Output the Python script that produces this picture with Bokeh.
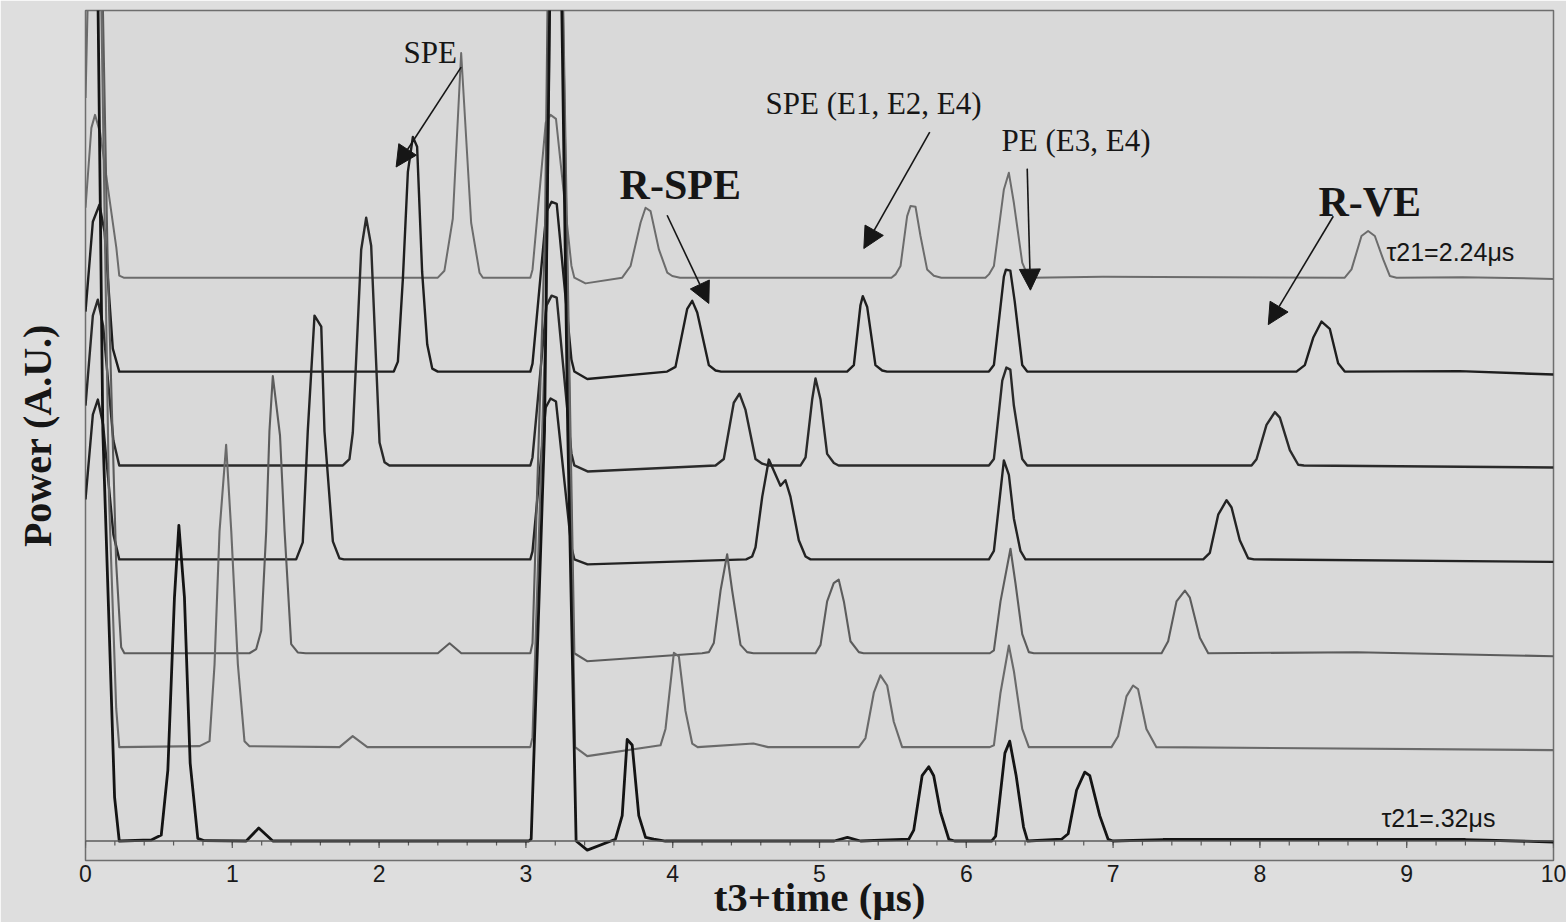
from bokeh.plotting import figure
from bokeh.models import Range1d, FixedTicker, Span, Label, Arrow, NormalHead
from bokeh.embed import file_html
from bokeh.resources import INLINE

# ---- data: time (us) and power (A.U., relative to each trace's own baseline) ----
t1 = [0.0, 0.04, 0.065, 0.10, 0.21, 0.23, 0.26, 1.20, 2.40, 2.445, 2.502, 2.559, 2.627, 2.684, 2.707,
      3.03, 3.045, 3.135, 3.168, 3.205, 3.31, 3.33, 3.406, 3.656, 3.713, 3.781, 3.815, 3.849, 3.906,
      3.963, 3.997, 4.05, 5.49, 5.518, 5.552, 5.597, 5.62, 5.654, 5.688, 5.733, 5.779, 5.83, 6.13,
      6.154, 6.188, 6.256, 6.29, 6.324, 6.381, 6.415, 6.45, 6.93, 8.578, 8.624, 8.692, 8.737, 8.783,
      8.84, 8.885, 8.931, 9.38, 10.0]
p1 = [70, 150, 163, 145, 30, 2, 0, 0, 0, 7, 59, 225, 55, 5, 0,
      0, 8, 155, 163, 159, 12, 0, -5.7, 0, 11.7, 55, 70, 66.7, 28.3,
      5, 1.7, 0, 0, 3.3, 11.7, 61.7, 71.7, 71, 41.7, 8.3, 2, 0, 0,
      3.3, 11.7, 88.3, 105, 75, 15, 3.3, 0, 1, 0, 8.3, 41.7, 46.7, 41.7,
      18.3, 1.7, 0, 0.5, -1.2]

t2 = [0.0, 0.05, 0.095, 0.13, 0.186, 0.23, 1.2, 2.10, 2.128, 2.162, 2.196, 2.23, 2.259, 2.293, 2.328,
      2.362, 2.40, 3.03, 3.045, 3.14, 3.175, 3.21, 3.31, 3.33, 3.418, 3.962, 4.019, 4.099, 4.133,
      4.167, 4.246, 4.292, 4.33, 5.188, 5.234, 5.279, 5.295, 5.325, 5.381, 5.427, 5.46, 6.154, 6.188,
      6.256, 6.27, 6.30, 6.33, 6.381, 6.415, 8.249, 8.306, 8.363, 8.42, 8.476, 8.533, 8.578, 9.36, 10.0]
p2 = [60, 150, 167, 140, 23, 0, 0, 0, 10, 93, 200, 235, 225, 100, 27,
      3, 0, 0, 8, 160, 170, 168, 12, 0, -7.5, 0, 4.7, 62.8, 70.8,
      59.2, 6.5, 1.1, 0, 0, 6.5, 66.4, 75.5, 64.6, 6.5, 1.1, 0, 0, 6.5,
      95, 102, 101, 70, 6.5, 0, 0, 6.5, 33.8, 50.1, 42.8, 8.4, 0, 0.5, -3]

t3 = [0.0, 0.05, 0.084, 0.12, 0.19, 0.23, 1.2, 1.753, 1.798, 1.821, 1.878, 1.912, 1.946, 2.003, 2.037,
      2.07, 3.03, 3.045, 3.14, 3.175, 3.21, 3.31, 3.33, 3.42, 4.292, 4.348, 4.416, 4.455, 4.496, 4.564,
      4.61, 4.65, 4.871, 4.905, 4.95, 4.973, 5.007, 5.052, 5.098, 5.13, 6.154, 6.188, 6.245, 6.273,
      6.30, 6.324, 6.381, 6.415, 7.943, 7.977, 8.045, 8.102, 8.136, 8.204, 8.261, 8.30, 10.0]
p3 = [60, 150, 166, 140, 25, 0, 0, 0, 6.3, 33, 216, 248, 220, 23, 3.3,
      0, 0, 8, 160, 170, 168, 12, 0, -6, 0, 6.5, 62.8, 71.9, 55.6, 6.5,
      1.8, 0, 0, 8, 66, 87.1, 66, 11.6, 2.5, 0, 0, 6.5, 85, 98,
      96, 60, 6.5, 0, 0, 6.2, 40.7, 53.4, 47.9, 15.3, 0.7, 0, -2]

t4 = [0.0, 0.05, 0.084, 0.12, 0.19, 0.23, 1.2, 1.435, 1.48, 1.514, 1.56, 1.606, 1.628, 1.685, 1.73,
      1.76, 3.03, 3.045, 3.135, 3.168, 3.205, 3.31, 3.33, 3.42, 4.50, 4.541, 4.564, 4.61, 4.655, 4.734,
      4.768, 4.802, 4.859, 4.905, 4.939, 6.154, 6.188, 6.256, 6.29, 6.324, 6.369, 6.403, 7.614, 7.659,
      7.716, 7.773, 7.807, 7.863, 7.92, 7.96, 10.0]
p4 = [60, 145, 160, 135, 25, 0, 0, 0, 17, 128, 244, 233, 128, 18, 1,
      0, 0, 8, 152, 161, 158, 12, 0, -5, 0, 2.9, 12, 62.8, 99.9, 73.7,
      79.2, 62.8, 19.2, 2.9, 0, 0, 8.4, 99, 84.6, 41, 8.4, 0, 0, 6.5,
      44.7, 59.2, 51.9, 19.2, 1.1, 0, -2.5]

t5 = [0.0, 0.06, 0.15, 0.209, 0.243, 0.265, 1.117, 1.163, 1.197, 1.231, 1.253, 1.276, 1.325, 1.356,
      1.401, 1.446, 1.50, 2.40, 2.48, 2.56, 3.03, 3.045, 3.13, 3.19, 3.28, 3.33, 3.417, 4.20, 4.246,
      4.28, 4.326, 4.371, 4.405, 4.462, 4.507, 4.55, 4.973, 5.007, 5.052, 5.097, 5.131, 5.166, 5.211,
      5.268, 5.30, 6.16, 6.188, 6.233, 6.301, 6.335, 6.381, 6.426, 6.46, 7.33, 7.375, 7.432, 7.489,
      7.523, 7.591, 7.648, 8.66, 10.0]
p5 = [700, 1100, 400, 90, 6, 0, 0, 4.2, 22.5, 122.5, 222.5, 277.5, 218, 122.5,
      9.2, 0.8, 0, 0, 10, 0, 0, 10, 420, 1200, 420, 0, -8, 0, 1.1,
      10.2, 62.8, 99.1, 62.8, 8.4, 1.1, 0, 0, 8.4, 51.9, 70.1, 73.7, 51.9, 12,
      1.1, 0, 0, 2.9, 51.9, 104.6, 70.1, 19.2, 1.1, 0, 0, 12, 51.9, 62.8,
      55.6, 15.6, 0, 1, -3]

t6 = [0.0, 0.07, 0.16, 0.209, 0.23, 0.777, 0.845, 0.879, 0.913, 0.958, 0.993, 1.038, 1.083, 1.117,
      1.73, 1.82, 1.92, 3.03, 3.045, 3.14, 3.20, 3.29, 3.335, 3.418, 3.917, 3.951, 4.008, 4.042,
      4.087, 4.133, 4.17, 4.55, 4.65, 5.268, 5.313, 5.37, 5.415, 5.461, 5.506, 5.563, 6.16, 6.188,
      6.233, 6.29, 6.324, 6.381, 6.426, 6.989, 7.034, 7.091, 7.136, 7.17, 7.227, 7.295, 10.0]
p6 = [650, 1100, 250, 39, 0, 1, 6, 82.7, 216, 302.7, 216, 82.7, 6, 1,
      0, 11, 0, 0, 10, 450, 1200, 400, 0, -9, 1.8, 18.2, 94.4, 90.8,
      36.3, 3.6, 0, 3.6, 0, 0, 9.1, 54.5, 71.9, 61.7, 25.4, 0, 0, 1.8,
      54.5, 101.7, 76.3, 18.2, 0, 0, 10.9, 50.8, 61.7, 58.1, 18.2, 0, -3]

t7 = [0.0, 0.05, 0.118, 0.198, 0.23, 0.448, 0.516, 0.561, 0.606, 0.636, 0.674, 0.713, 0.765, 0.81,
      1.095, 1.18, 1.276, 3.02, 3.036, 3.127, 3.20, 3.285, 3.342, 3.418, 3.61, 3.656, 3.69, 3.724,
      3.769, 3.815, 3.871, 3.95, 5.10, 5.19, 5.28, 5.608, 5.642, 5.699, 5.744, 5.778, 5.824, 5.881,
      5.92, 6.172, 6.20, 6.263, 6.296, 6.34, 6.39, 6.418, 6.649, 6.694, 6.751, 6.807, 6.841, 6.909,
      6.966, 7.0, 7.34, 9.4, 10.0]
p7 = [900, 1300, 411, 44, 0, 1, 6, 71, 244, 316, 244, 78, 2.7, 0.3,
      0, 13, 0, 0, 2, 411, 1300, 411, 0, -9.1, 1.8, 25.4, 101.7, 96.2,
      25.4, 3.6, 1.8, 0, 0, 3.6, 0, 1.8, 10.9, 65.4, 74.4, 65.4, 29, 1.8,
      0, 0, 5, 88, 100, 65, 14, 0, 1.8, 7.3, 50.8, 69, 65.4, 25.4,
      1.8, 0, 1.5, 1.5, -1]

trace_offsets = [564, 470, 376, 282, 188, 94, 0]
x_tick_labels = ["0", "1", "2", "3", "4", "5", "6", "7", "8", "9", "10"]
x_ticks = [0, 1, 2, 3, 4, 5, 6, 7, 8, 9, 10]
minor_ticks = [round(0.2 * i, 1) for i in range(51)]

times = [t1, t2, t3, t4, t5, t6, t7]
powers = [p1, p2, p3, p4, p5, p6, p7]
for i, (a, b) in enumerate(zip(times, powers)):
    assert len(a) == len(b), (i, len(a), len(b))

colors = ["#6c6c6c", "#1e1e1e", "#2a2a2a", "#232323", "#5c5c5c", "#6a6a6a", "#141414"]
widths = [2.0, 2.4, 2.4, 2.4, 2.1, 2.1, 2.8]

serif = "Liberation Serif"
sans = "Liberation Sans"
ink = "#161616"

p = figure(width=1566, height=922, output_backend="svg", toolbar_location=None,
           x_range=Range1d(0, 10), y_range=Range1d(-19.5, 831.5),
           min_border_left=85, min_border_right=13, min_border_top=10, min_border_bottom=61)
p.background_fill_color = "#d9d9d9"
p.border_fill_color = "#dedede"
p.outline_line_color = "#6e6e6e"
p.outline_line_width = 1.5
p.xgrid.visible = False
p.ygrid.visible = False

ax = p.xaxis[0]
ax.ticker = FixedTicker(ticks=x_ticks)
ax.major_label_overrides = {t: s for t, s in zip(x_ticks, x_tick_labels)}
ax.axis_line_color = None
ax.major_tick_line_color = None
ax.minor_tick_line_color = None
ax.major_tick_out = 0
ax.major_tick_in = 0
ax.major_label_standoff = 4
ax.major_label_text_font = sans
ax.major_label_text_font_size = "23px"
ax.major_label_text_color = "#1a1a1a"
ax.axis_label = "t3+time (μs)"
ax.axis_label_text_font = serif
ax.axis_label_text_font_style = "bold"
ax.axis_label_text_font_size = "41px"
ax.axis_label_text_color = ink
ax.axis_label_standoff = -11

ay = p.yaxis[0]
ay.ticker = FixedTicker(ticks=[])
ay.axis_line_color = None
ay.major_tick_line_color = None
ay.minor_tick_line_color = None
ay.major_tick_out = 0
ay.major_tick_in = 0
ay.axis_label = "Power (A.U.)"
ay.axis_label_text_font = serif
ay.axis_label_text_font_style = "bold"
ay.axis_label_text_font_size = "40px"
ay.axis_label_text_color = ink
ay.axis_label_standoff = 26

# inner time axis with its tick marks
p.add_layout(Span(location=0, dimension="width", line_color="#5a5a5a", line_width=1.3))
p.segment(x0=minor_ticks, y0=[0] * len(minor_ticks), x1=minor_ticks, y1=[-4.5] * len(minor_ticks),
          line_color="#5a5a5a", line_width=1.2)
p.segment(x0=x_ticks, y0=[0] * len(x_ticks), x1=x_ticks, y1=[-7] * len(x_ticks),
          line_color="#5a5a5a", line_width=1.2)

for t, pw, off, col, lw in zip(times, powers, trace_offsets, colors, widths):
    p.line(t, [v + off for v in pw], line_color=col, line_width=lw, line_join="round")


def lab(x, y, text, font, size, style="normal"):
    p.add_layout(Label(x=x, y=y, text=text, text_font=font, text_font_size=size,
                       text_font_style=style, text_color=ink, text_align="left",
                       text_baseline="middle"))


lab(2.166, 789.5, "SPE", serif, "31px")
lab(4.632, 738.5, "SPE (E1, E2, E4)", serif, "31px")
lab(6.24, 701.5, "PE (E3, E4)", serif, "31px")
lab(3.638, 656.5, "R-SPE", serif, "42px", "bold")
lab(8.399, 639.5, "R-VE", serif, "42px", "bold")
lab(8.862, 589.5, "τ21=2.24μs", sans, "25px")
lab(8.828, 23.5, "τ21=.32μs", sans, "25px")

arrows = [
    (2.559, 774.8, 2.116, 674.8),
    (3.962, 626.5, 4.246, 538.2),
    (5.751, 709.8, 5.302, 593.2),
    (6.415, 673.2, 6.437, 551.5),
    (8.50, 625.5, 8.057, 517.0),
]
for xs, ys, xe, ye in arrows:
    p.add_layout(Arrow(end=NormalHead(size=21, fill_color=ink, line_color=ink, line_width=1),
                       x_start=xs, y_start=ys, x_end=xe, y_end=ye,
                       line_color=ink, line_width=1.6))

html = file_html(p, INLINE)
html = html.replace("<body>", '<body style="background-color:#dedede;">', 1)
open("out.html", "w").write(html)
